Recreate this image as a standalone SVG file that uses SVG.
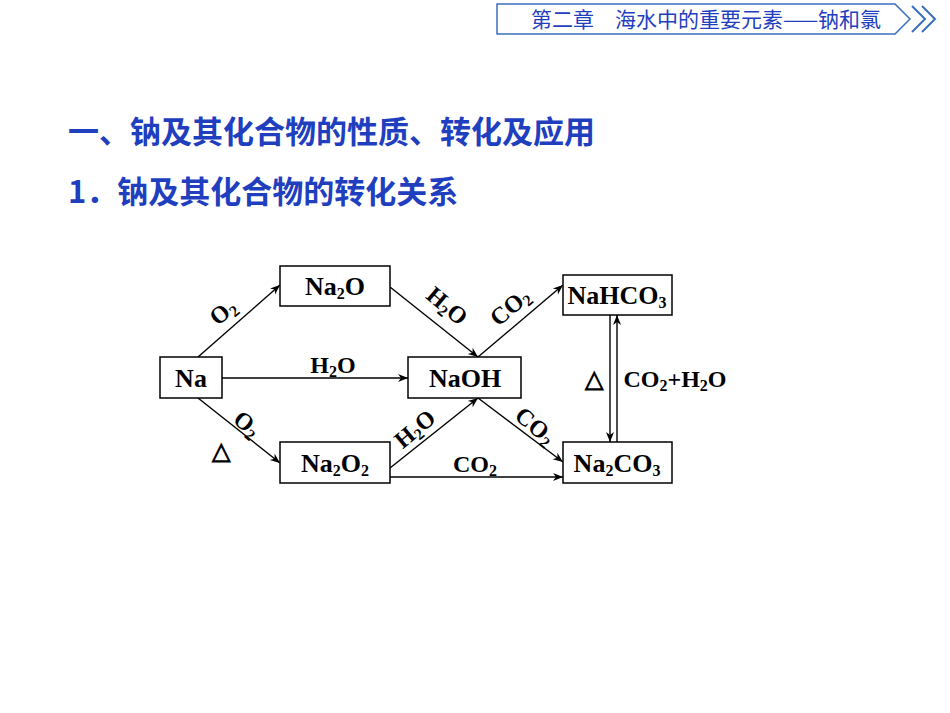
<svg xmlns="http://www.w3.org/2000/svg" width="950" height="713" viewBox="0 0 950 713">
<style>
.box{fill:#fff;stroke:#000;stroke-width:1.5}
.t{font-family:"Liberation Serif",serif;font-weight:bold;font-size:26px;text-anchor:middle}
.l{font-family:"Liberation Serif",serif;font-weight:bold;font-size:24px;text-anchor:middle}
.c{stroke:#000;stroke-width:1.4;fill:none;marker-end:url(#a)}
.h{font-family:"Noto Sans CJK SC",sans-serif;font-weight:bold;fill:#1f3fbf}
</style>
<defs><marker id="a" viewBox="0 0 10 10" refX="10" refY="5" markerWidth="10" markerHeight="10" markerUnits="userSpaceOnUse" orient="auto"><path d="M0,1 L10,5 L0,9 L3,5 Z" fill="#000"/></marker></defs>
<g id="banner">
<path d="M497,4 H895 L910,19 L895,34 H497 Z" fill="#fff" stroke="#3a6fbf" stroke-width="1.5"/>
<path d="M912,6 L925,19 L912,32 M922,6 L935,19 L922,32" fill="none" stroke="#3a6fbf" stroke-width="2"/>
<text x="706" y="27" font-family="Noto Sans CJK SC,sans-serif" font-size="21" fill="#1f3fbf" text-anchor="middle">第二章　海水中的重要元素——钠和氯</text>
</g>
<text x="68" y="143" class="h" font-size="31">一、钠及其化合物的性质、转化及应用</text>
<text x="68" y="203" class="h" font-size="31">1．钠及其化合物的转化关系</text>
<g id="connectors">
<line class="c" x1="198" y1="357" x2="280" y2="285"/>
<line class="c" x1="222" y1="378" x2="408" y2="378"/>
<line class="c" x1="198" y1="398" x2="280" y2="463"/>
<line class="c" x1="390" y1="287" x2="478" y2="357"/>
<line class="c" x1="390" y1="468" x2="478" y2="398"/>
<line class="c" x1="390" y1="477" x2="563" y2="477"/>
<line class="c" x1="478" y1="357" x2="563" y2="285"/>
<line class="c" x1="478" y1="398" x2="563" y2="462"/>
<line class="c" x1="610" y1="315" x2="610" y2="442"/>
<line class="c" x1="617" y1="442" x2="617" y2="315"/>
<text class="l" transform="translate(228,318) rotate(-40)">O<tspan font-size="16" dy="4">2</tspan></text>
<text class="l" x="333" y="373">H<tspan font-size="16" dy="4">2</tspan><tspan dy="-4">O</tspan></text>
<text class="l" transform="translate(242,430) rotate(40)">O<tspan font-size="16" dy="4">2</tspan></text>
<text class="l" x="221" y="459">△</text>
<text class="l" transform="translate(442,312) rotate(40)">H<tspan font-size="16" dy="4">2</tspan><tspan dy="-4">O</tspan></text>
<text class="l" transform="translate(515,313) rotate(-40)">CO<tspan font-size="16" dy="4">2</tspan></text>
<text class="l" transform="translate(420,435) rotate(-40)">H<tspan font-size="16" dy="4">2</tspan><tspan dy="-4">O</tspan></text>
<text class="l" transform="translate(530,432) rotate(40)">CO<tspan font-size="16" dy="4">2</tspan></text>
<text class="l" x="475" y="472">CO<tspan font-size="16" dy="4">2</tspan></text>
<text class="l" x="594" y="387">△</text>
<text class="l" x="675" y="387">CO<tspan font-size="16" dy="4">2</tspan><tspan dy="-4">+H</tspan><tspan font-size="16" dy="4">2</tspan><tspan dy="-4">O</tspan></text>
</g>
<g id="Na"><rect class="box" x="160" y="357" width="62" height="41"/><text class="t" x="191" y="387">Na</text></g>
<g id="Na2O"><rect class="box" x="280" y="266" width="110" height="40"/><text class="t" x="335" y="295">Na<tspan font-size="16" dy="4">2</tspan><tspan dy="-4">O</tspan></text></g>
<g id="NaOH"><rect class="box" x="408" y="357" width="113" height="41"/><text class="t" x="465" y="387">NaOH</text></g>
<g id="Na2O2"><rect class="box" x="280" y="442" width="110" height="41"/><text class="t" x="335" y="472">Na<tspan font-size="16" dy="4">2</tspan><tspan dy="-4">O</tspan><tspan font-size="16" dy="4">2</tspan></text></g>
<g id="NaHCO3"><rect class="box" x="563" y="275" width="109" height="40"/><text class="t" x="617" y="304">NaHCO<tspan font-size="16" dy="4">3</tspan></text></g>
<g id="Na2CO3"><rect class="box" x="563" y="442" width="109" height="41"/><text class="t" x="617" y="472">Na<tspan font-size="16" dy="4">2</tspan><tspan dy="-4">CO</tspan><tspan font-size="16" dy="4">3</tspan></text></g>
</svg>
